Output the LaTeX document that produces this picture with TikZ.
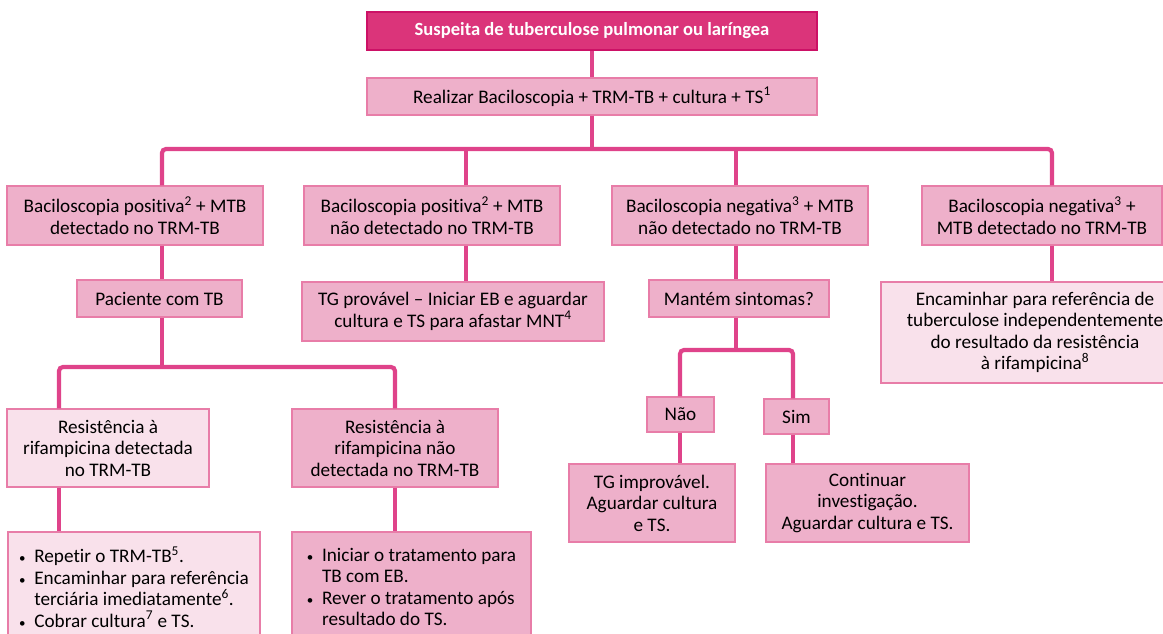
\documentclass[tikz,border=0pt]{standalone}
\usepackage{fontspec}
\setmainfont[RawFeature={-liga;-calt;-clig}]{Carlito}
\usetikzlibrary{shapes,positioning}
\definecolor{tbdark}{HTML}{DB347A}
\definecolor{tbdarkedge}{HTML}{CC1166}
\definecolor{tbmid}{HTML}{EEB0CA}
\definecolor{tblight}{HTML}{F9E1EB}
\definecolor{tbedge}{HTML}{E87DA8}
\definecolor{tbline}{HTML}{DF438A}
\tikzstyle{block} = [draw=tbedge, fill=tbmid, rectangle, line width=1.2pt,
    inner sep=2pt, align=center, font=\fontsize{19.2}{21.5}\selectfont]
\tikzstyle{pale} = [block, fill=tblight]
\tikzstyle{head} = [block, fill=tbdark, draw=tbdarkedge, text=white,
    font=\fontsize{18.6}{21.5}\selectfont\bfseries]
\tikzstyle{link} = [draw=tbline, line width=4.2pt]
\tikzstyle{input} = [coordinate]
\newcommand{\bl}{{\fontsize{13}{13}\selectfont\textbullet}\hspace{0.45em}}
\newcommand{\bi}{\hphantom{\bl}}

\begin{document}
\begin{tikzpicture}[x=1pt, y=-1pt]
\useasboundingbox (0,0) rectangle (1163,633);

\node [head, name=susp, minimum width=450, minimum height=38] at (592,31) {Suspeita de tuberculose pulmonar ou laríngea};
\node [block, name=realiz, minimum width=450, minimum height=37] at (592,96.5) {Realizar Baciloscopia + TRM-TB + cultura + TS\textsuperscript{1}};

\node [block, name=b1, minimum width=256, minimum height=59] at (135,215.5) {Baciloscopia positiva\textsuperscript{2} + MTB\\detectado no TRM-TB};
\node [block, name=b2, minimum width=256, minimum height=59] at (432,215.5) {Baciloscopia positiva\textsuperscript{2} + MTB\\não detectado no TRM-TB};
\node [block, name=b3, minimum width=256, minimum height=59] at (740,215.5) {Baciloscopia negativa\textsuperscript{3} + MTB\\não detectado no TRM-TB};
\node [block, name=b4, minimum width=240, minimum height=59] at (1042,215.5) {Baciloscopia negativa\textsuperscript{3} +\\MTB detectado no TRM-TB};

\node [input, name=jm] at (592,149) {};
\node [input, name=j1] at (162,149) {};
\node [input, name=j2] at (466,149) {};
\node [input, name=j3] at (736,149) {};
\node [input, name=j4] at (1052,149) {};

\node [block, name=pac, minimum width=165, minimum height=37] at (159.5,298.5) {Paciente com TB};
\node [block, name=tgp, minimum width=302, minimum height=59] at (453,311.5) {TG provável – Iniciar EB e aguardar\\cultura e TS para afastar MNT\textsuperscript{4}};
\node [block, name=mant, minimum width=180, minimum height=37] at (739,298.5) {Mantém sintomas?};
\node [pale, name=enc, minimum width=308, minimum height=101] at (1035,332.5) {Encaminhar para referência de\\tuberculose independentemente\\do resultado da resistência\\à rifampicina\textsuperscript{8}};

\node [input, name=k1] at (162,367) {};
\node [input, name=k0] at (59,367) {};
\node [input, name=k2] at (395,367) {};
\node [pale, name=resdet, minimum width=202, minimum height=78] at (108,448) {Resistência à\\rifampicina detectada\\no TRM-TB};
\node [block, name=resnao, minimum width=206, minimum height=78] at (395,448) {Resistência à\\rifampicina não\\detectada no TRM-TB};
\node [pale, name=bul1, minimum width=252, minimum height=110, align=left] at (134,587) {\bl Repetir o TRM-TB\textsuperscript{5}.\\\bl Encaminhar para referência\\\bi terciária imediatamente\textsuperscript{6}.\\\bl Cobrar cultura\textsuperscript{7} e TS.};
\node [block, name=bul2, minimum width=239, minimum height=110, align=left] at (411.5,587) {\bl Iniciar o tratamento para\\\bi TB com EB.\\\bl Rever o tratamento após\\\bi resultado do TS.};

\node [input, name=m1] at (736,350) {};
\node [input, name=m0] at (680,350) {};
\node [input, name=m2] at (793,350) {};
\node [block, name=nao, minimum width=67, minimum height=35] at (680.5,414.5) {Não};
\node [block, name=sim, minimum width=65, minimum height=35] at (796.5,416.5) {Sim};
\node [block, name=tgi, minimum width=166, minimum height=78] at (652,503) {TG improvável.\\Aguardar cultura\\e TS.};
\node [block, name=cont, minimum width=203, minimum height=78] at (867.5,503) {Continuar\\investigação.\\Aguardar cultura e TS.};

\draw [link] (susp) -- (realiz);
\draw [link] (realiz) -- (jm);
\draw [link, rounded corners=4pt] (b1.north -| j1) -- (j1) -- (j4) -- (b4.north -| j4);
\draw [link] (j2) -- (b2.north -| j2);
\draw [link] (j3) -- (b3.north -| j3);

\draw [link] (b1.south -| j1) -- (pac.north -| j1);
\draw [link] (pac.south -| j1) -- (k1);
\draw [link, rounded corners=4pt] (resdet.north -| k0) -- (k0) -- (k2) -- (resnao.north -| k2);
\draw [link] (resdet.south -| k0) -- (bul1.north -| k0);
\draw [link] (resnao.south -| k2) -- (bul2.north -| k2);

\draw [link] (b2.south -| j2) -- (tgp.north -| j2);

\draw [link] (b3.south -| j3) -- (mant.north -| j3);
\draw [link] (mant.south -| j3) -- (m1);
\draw [link, rounded corners=4pt] (nao.north -| m0) -- (m0) -- (m2) -- (sim.north -| m2);
\draw [link] (nao.south -| m0) -- (tgi.north -| m0);
\draw [link] (sim.south -| m2) -- (cont.north -| m2);

\draw [link] (b4.south -| j4) -- (enc.north -| j4);
\end{tikzpicture}
\end{document}
